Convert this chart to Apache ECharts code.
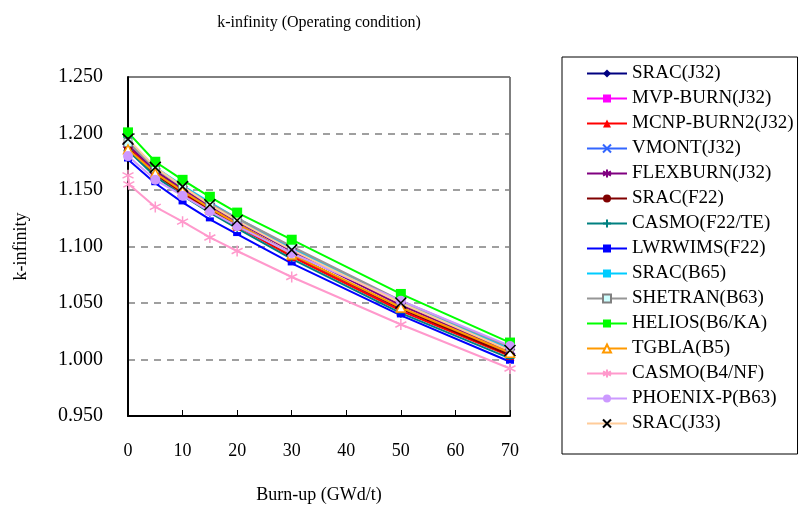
<!DOCTYPE html>
<html><head><meta charset="utf-8">
<script src="https://cdn.jsdelivr.net/npm/echarts@6/dist/echarts.min.js"></script>
<style>html,body{margin:0;padding:0;background:#fff}#c{width:802px;height:509px}</style>
</head><body><div id="c"></div>
<script>
const burnup = [0, 5, 10, 15, 20, 30, 50, 70];
const burnupCasmoNF = [0, 0.15, 5, 10, 15, 20, 30, 50, 70];
const yTicks = ['0.950','1.000','1.050','1.100','1.150','1.200','1.250'];
const seriesNames = ['SRAC(J32)','MVP-BURN(J32)','MCNP-BURN2(J32)','VMONT(J32)','FLEXBURN(J32)','SRAC(F22)','CASMO(F22/TE)','LWRWIMS(F22)','SRAC(B65)','SHETRAN(B63)','HELIOS(B6/KA)','TGBLA(B5)','CASMO(B4/NF)','PHOENIX-P(B63)','SRAC(J33)'];
const sracJ32   = [1.190, 1.166, 1.149, 1.134, 1.120, 1.093, 1.045, 1.005];
const mvpBurn   = [1.189, 1.165, 1.148, 1.133, 1.119, 1.092, 1.044, 1.004];
const mcnpBurn2 = [1.188, 1.164, 1.147, 1.132, 1.118, 1.091, 1.043, 1.003];
const vmont     = [1.193, 1.169, 1.153, 1.138, 1.124, 1.098, 1.050, 1.009];
const flexburn  = [1.190, 1.167, 1.151, 1.136, 1.122, 1.096, 1.048, 1.007];
const sracF22   = [1.187, 1.164, 1.148, 1.133, 1.119, 1.093, 1.045, 1.004];
const casmoF22  = [1.185, 1.162, 1.145, 1.130, 1.116, 1.089, 1.041, 1.001];
const lwrwims   = [1.177, 1.156, 1.139, 1.124, 1.111, 1.085, 1.039, 0.998];
const sracB65   = [1.194, 1.170, 1.154, 1.139, 1.125, 1.099, 1.051, 1.010];
const shetran   = [1.192, 1.169, 1.153, 1.138, 1.125, 1.100, 1.052, 1.011];
const helios    = [1.201, 1.175, 1.159, 1.144, 1.130, 1.106, 1.058, 1.015];
const tgbla     = [1.186, 1.165, 1.149, 1.134, 1.120, 1.093, 1.046, 1.006];
const casmoNF   = [1.163, 1.155, 1.135, 1.122, 1.108, 1.096, 1.073, 1.031, 0.992];
const phoenix   = [1.180, 1.159, 1.145, 1.131, 1.118, 1.094, 1.052, 1.012];
const sracJ33   = [1.195, 1.170, 1.153, 1.137, 1.123, 1.097, 1.050, 1.008];

const FONT = "'Liberation Serif','Times New Roman',serif";
const X_PATH = 'path://M0,0L10,10M10,0L0,10';
const AST_PATH = 'path://M5,0L5,10M0,2.5L10,7.5M0,7.5L10,2.5';
const PLUS_PATH = 'path://M5,0L5,10M0,5L10,5';

function pts(xs, ys){ return xs.map((x,i)=>[x, ys[i]]); }
function mk(name, xs, ys, line, symbol, size, fill, stroke, bw){
  return {
    name, type:'line', data: pts(xs, ys),
    symbol, symbolSize: size,
    lineStyle:{color:line, width:2},
    itemStyle:{color:fill, borderColor:stroke||fill, borderWidth:bw||0},
    emphasis:{disabled:true}, animation:false
  };
}
const series = [
  mk(seriesNames[0], burnup, sracJ32, '#000080', 'diamond', 9, '#000080'),
  mk(seriesNames[1], burnup, mvpBurn, '#FF00FF', 'rect', 8, '#FF00FF'),
  mk(seriesNames[2], burnup, mcnpBurn2, '#FF0000', 'triangle', 9, '#FF0000'),
  mk(seriesNames[3], burnup, vmont, '#3366FF', X_PATH, 9, 'none', '#3366FF', 1.5),
  mk(seriesNames[4], burnup, flexburn, '#800080', AST_PATH, 10, 'none', '#800080', 1.5),
  mk(seriesNames[5], burnup, sracF22, '#800000', 'circle', 8, '#800000'),
  mk(seriesNames[6], burnup, casmoF22, '#008080', PLUS_PATH, 9, 'none', '#008080', 1.5),
  mk(seriesNames[7], burnup, lwrwims, '#0000FF', 'rect', [8,4], '#0000FF'),
  mk(seriesNames[8], burnup, sracB65, '#00CCFF', 'rect', [8,3], '#00CCFF'),
  mk(seriesNames[9], burnup, shetran, '#969696', 'rect', 8, '#CCFFFF', '#808080', 1),
  mk(seriesNames[10], burnup, helios, '#00FF00', 'rect', 10, '#00FF00'),
  mk(seriesNames[11], burnup, tgbla, '#FF9900', 'triangle', 9, '#FFFFFF', '#FF9900', 1.5),
  mk(seriesNames[12], burnupCasmoNF, casmoNF, '#FF99CC', AST_PATH, 11, 'none', '#FF99CC', 1.5),
  mk(seriesNames[13], burnup, phoenix, '#CC99FF', 'circle', 10, '#CC99FF'),
  mk(seriesNames[14], burnup, sracJ33, '#FFCC99', X_PATH, 11, 'none', '#000000', 1.5)
];

const chart = echarts.init(document.getElementById('c'), null, {renderer:'canvas'});
chart.setOption({
  animation:false,
  backgroundColor:'#fff',
  title:{text:'k-infinity (Operating condition)', left:314, top:10, textAlign:'center',
    textStyle:{fontFamily:FONT, fontSize:16, fontWeight:'normal', color:'#000'}},
  grid:{left:128, right:292, top:77, bottom:90, show:true, borderColor:'#000', borderWidth:1, backgroundColor:'transparent'},
  legend:{
    orient:'vertical', left:562, top:57,
    padding:[7, 4, 21, 24],
    borderColor:'#000', borderWidth:1,
    itemWidth:40, itemHeight:10, itemGap:6,
    data: seriesNames,
    textStyle:{fontFamily:FONT, fontSize:19, color:'#000'}
  },
  xAxis:{
    type:'value', min:0, max:70, interval:10,
    name:'Burn-up (GWd/t)', nameLocation:'middle', nameGap:70,
    nameTextStyle:{fontFamily:FONT, fontSize:18, color:'#000'},
    axisLine:{lineStyle:{color:'#000', width:2}},
    axisTick:{inside:true, length:6, lineStyle:{color:'#000', width:1}},
    axisLabel:{fontFamily:FONT, fontSize:18, color:'#000', margin:26},
    splitLine:{show:false}
  },
  yAxis:{
    type:'value', min:0.95, max:1.25, interval:0.05,
    name:'k-infinity', nameLocation:'middle', nameGap:98,
    nameTextStyle:{fontFamily:FONT, fontSize:18, color:'#000'},
    axisLine:{show:true, lineStyle:{color:'#000', width:2}},
    axisTick:{show:false},
    axisLabel:{fontFamily:FONT, fontSize:20, color:'#000', margin:25,
      formatter:(v)=>{ const s=v.toFixed(3); return yTicks.includes(s)?s:''; }},
    splitLine:{show:true, lineStyle:{color:'#808080', width:1.5, type:[7,6]}}
  },
  series
});
</script>
</body></html>
